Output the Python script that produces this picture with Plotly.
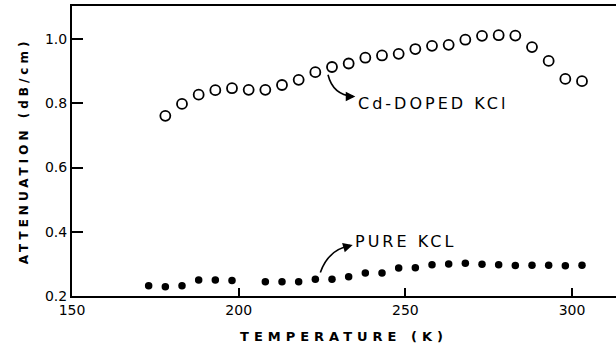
import plotly.graph_objects as go

# Cd-doped KCl (open circles)
doped_T = [178, 183, 188, 193, 198, 203, 208, 213, 218, 223, 228, 233, 238,
           243, 248, 253, 258, 263, 268, 273, 278, 283, 288, 293, 298, 303]
doped_att = [0.761, 0.798, 0.827, 0.841, 0.847, 0.842, 0.842, 0.857, 0.873, 0.897,
             0.913, 0.924, 0.942, 0.949, 0.954, 0.969, 0.979, 0.982, 0.998, 1.010,
             1.012, 1.011, 0.975, 0.932, 0.876, 0.869]

# Pure KCl (filled dots)
pure_T = [173, 178, 183, 188, 193, 198, 208, 213, 218, 223, 228, 233, 238,
          243, 248, 253, 258, 263, 268, 273, 278, 283, 288, 293, 298, 303]
pure_att = [0.232, 0.229, 0.232, 0.250, 0.250, 0.248, 0.244, 0.244, 0.244, 0.252,
            0.252, 0.260, 0.272, 0.272, 0.287, 0.288, 0.297, 0.300, 0.302, 0.299,
            0.297, 0.295, 0.296, 0.296, 0.294, 0.296]

x_ticks = [150, 200, 250, 300]
y_ticks = [0.2, 0.4, 0.6, 0.8, 1.0]
y_tick_text = ["0.2", "0.4", "0.6", "0.8", "1.0"]

FONT = "DejaVu Sans"

fig = go.Figure()
fig.add_trace(go.Scatter(x=doped_T, y=doped_att, mode="markers",
                         marker=dict(symbol="circle-open", size=10, color="black",
                                     line=dict(width=1.8, color="black")),
                         showlegend=False))
fig.add_trace(go.Scatter(x=pure_T, y=pure_att, mode="markers",
                         marker=dict(symbol="circle", size=7.5, color="black"),
                         showlegend=False))

# curved arrow paths (data coordinates)
fig.add_shape(type="path", xref="x", yref="y",
              path="M 226.8,0.889 Q 228.3,0.826 234.2,0.822",
              line=dict(color="black", width=1.6))
fig.add_shape(type="path", xref="x", yref="y",
              path="M 224.5,0.273 Q 226.8,0.343 233.4,0.357",
              line=dict(color="black", width=1.6))

# arrowheads
fig.add_annotation(x=235.0, y=0.821, ax=-7, ay=0, text="", showarrow=True,
                   arrowhead=2, arrowsize=1.2, arrowwidth=1.6, arrowcolor="black",
                   xref="x", yref="y", axref="pixel", ayref="pixel")
fig.add_annotation(x=234.2, y=0.359, ax=-7, ay=2, text="", showarrow=True,
                   arrowhead=2, arrowsize=1.2, arrowwidth=1.6, arrowcolor="black",
                   xref="x", yref="y", axref="pixel", ayref="pixel")

# labels
fig.add_annotation(x=235.3, y=0.80, text='<span style="letter-spacing:3px">Cd-DOPED KCl</span>',
                   showarrow=False, xanchor="left", yanchor="middle",
                   font=dict(family=FONT, size=16, color="black"))
fig.add_annotation(x=234.4, y=0.37, text='<span style="letter-spacing:3px">PURE KCL</span>',
                   showarrow=False, xanchor="left", yanchor="middle",
                   font=dict(family=FONT, size=16, color="black"))

fig.update_layout(
    width=616, height=349,
    margin=dict(l=72, r=0, t=6, b=53),
    paper_bgcolor="white", plot_bgcolor="white",
    font=dict(family=FONT, color="black"),
)
fig.update_xaxes(range=[150, 313.2], tickvals=x_ticks, ticks="inside", ticklen=8,
                 tickwidth=1.6, tickcolor="black", showline=True, linecolor="black",
                 linewidth=2, mirror=True, showgrid=False, zeroline=False,
                 tickfont=dict(family=FONT, size=14),
                 title=dict(text='<b><span style="letter-spacing:5px">TEMPERATURE (K)</span></b>',
                            font=dict(family=FONT, size=13), standoff=15))
fig.update_yaxes(range=[0.2, 1.103], tickvals=y_ticks, ticktext=y_tick_text,
                 ticks="inside", ticklen=11, tickwidth=1.6, tickcolor="black",
                 showline=True, linecolor="black", linewidth=2, showgrid=False,
                 zeroline=False, tickfont=dict(family=FONT, size=14),
                 title=dict(text='<b><span style="letter-spacing:4px">ATTENUATION (dB/cm)</span></b>',
                            font=dict(family=FONT, size=12), standoff=14))

fig.write_html("out.html")
